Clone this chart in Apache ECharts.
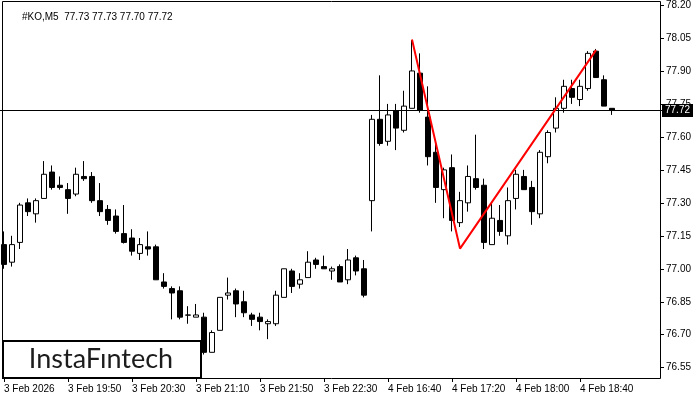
<!DOCTYPE html>
<html>
<head>
<meta charset="utf-8">
<script src="https://cdn.jsdelivr.net/npm/echarts@6.0.0/dist/echarts.min.js"></script>
<style>
  html, body { margin: 0; padding: 0; background: #fff; }
  #chart { width: 700px; height: 400px; }
</style>
</head>
<body>
<div id="chart"></div>
<script>
// KO, M5 - bar 0 is 3 Feb 19:10
const tickLabels = ['3 Feb 2026', '3 Feb 19:50', '3 Feb 20:30', '3 Feb 21:10', '3 Feb 21:50',
    '3 Feb 22:30', '4 Feb 16:40', '4 Feb 17:20', '4 Feb 18:00', '4 Feb 18:40'];
const slotCount = 83; // chart has room for 83 bars, last ones empty

const opens = [77.11, 77.03, 77.12, 77.30, 77.25, 77.32, 77.44, 77.38, 77.36, 77.34,
    77.42, 77.42, 77.31, 77.27, 77.24, 77.16, 77.14, 77.07, 77.10, 77.10,
    76.94, 76.91, 76.90, 76.789, 76.78, 76.78, 76.62, 76.72, 76.88, 76.90,
    76.85, 76.79, 76.78, 76.75, 76.75, 76.87, 76.99, 76.93, 76.96, 77.04,
    77.01, 76.99, 77.01, 76.95, 77.05, 77.00, 77.31, 77.68, 77.58, 77.72,
    77.63, 77.73, 77.89, 77.69, 77.53, 77.36, 77.46, 77.21, 77.30, 77.41,
    77.38, 77.11, 77.22, 77.15, 77.32, 77.42, 77.37, 77.25, 77.51, 77.64,
    77.73, 77.82, 77.77, 77.82, 77.99, 77.86, 77.73];
const highs = [77.17, 77.15, 77.30, 77.32, 77.32, 77.49, 77.47, 77.42, 77.39, 77.46,
    77.49, 77.44, 77.39, 77.29, 77.27, 77.29, 77.18, 77.14, 77.17, 77.11,
    76.98, 76.92, 76.92, 76.83, 76.84, 76.80, 76.72, 76.87, 76.96, 76.91,
    76.90, 76.80, 76.80, 76.77, 76.90, 77.00, 77.00, 76.98, 77.08, 77.05,
    77.06, 77.01, 77.02, 77.09, 77.06, 77.04, 77.70, 77.88, 77.75, 77.75,
    77.81, 78.04, 77.98, 77.83, 77.59, 77.46, 77.52, 77.35, 77.47, 77.61,
    77.41, 77.30, 77.29, 77.37, 77.45, 77.45, 77.40, 77.54, 77.63, 77.78,
    77.86, 77.86, 77.86, 77.99, 78.00, 77.88, 77.73];
const lows = [77.00, 77.01, 77.09, 77.24, 77.21, 77.32, 77.36, 77.36, 77.25, 77.33,
    77.40, 77.30, 77.24, 77.20, 77.16, 77.115, 77.06, 77.04, 77.06, 76.95,
    76.91, 76.77, 76.77, 76.75, 76.78, 76.61, 76.62, 76.72, 76.86, 76.78,
    76.78, 76.74, 76.72, 76.68, 76.74, 76.87, 76.89, 76.91, 76.96, 77.00,
    77.00, 76.95, 76.94, 76.93, 76.97, 76.87, 77.17, 77.56, 77.56, 77.54,
    77.62, 77.73, 77.71, 77.47, 77.30, 77.23, 77.17, 77.19, 77.26, 77.36,
    77.09, 77.11, 77.15, 77.11, 77.27, 77.36, 77.20, 77.23, 77.48, 77.62,
    77.71, 77.75, 77.74, 77.81, 77.87, 77.74, 77.70];
const closes = [77.02, 77.11, 77.29, 77.26, 77.31, 77.43, 77.37, 77.37, 77.32, 77.43,
    77.41, 77.31, 77.26, 77.22, 77.17, 77.12, 77.08, 77.11, 77.09, 76.95,
    76.92, 76.89, 76.78, 76.79, 76.79, 76.62, 76.71, 76.87, 76.89, 76.84,
    76.80, 76.77, 76.76, 76.76, 76.88, 77.00, 76.92, 76.95, 77.03, 77.02,
    77.00, 77.00, 76.94, 77.04, 76.99, 76.88, 77.68, 77.57, 77.70, 77.64,
    77.74, 77.90, 77.72, 77.51, 77.37, 77.45, 77.22, 77.31, 77.42, 77.37,
    77.12, 77.23, 77.17, 77.31, 77.43, 77.36, 77.26, 77.53, 77.62, 77.73,
    77.83, 77.78, 77.83, 77.98, 77.87, 77.74, 77.72];

const priceTicks = [76.55, 76.70, 76.85, 77.00, 77.15, 77.30, 77.45, 77.60, 77.75, 77.90, 78.05, 78.20];
const lastPrice = 77.72;

// double top outline
const patternIdx = [51, 57, 74];
const patternPrice = [78.043, 77.092, 77.995];

const categories = [];
for (let i = 0; i < slotCount; i++) {
    const lbl = i % 8 === 0 ? tickLabels[i / 8] : undefined;
    categories.push(lbl || '');
}
const candles = opens.map((o, i) => [o, closes[i], lows[i], highs[i]]);
const patternLine = patternIdx.map((x, i) => [x, patternPrice[i]]);
const hasLabel = (i) => categories[i] !== '';

const myChart = echarts.init(document.getElementById('chart'));
myChart.setOption({
    animation: false,
    backgroundColor: '#fff',
    title: {
        text: '#KO,M5  77.73 77.73 77.70 77.72',
        left: 17,
        top: 7,
        textStyle: { fontFamily: 'Liberation Sans', fontSize: 10, fontWeight: 'normal', color: '#000' },
    },
    grid: { left: 0, top: 2, width: 664, height: 376 },
    xAxis: {
        type: 'category',
        data: categories,
        boundaryGap: true,
        axisLine: { show: false },
        axisTick: { show: true, interval: hasLabel, alignWithLabel: true, length: 4, lineStyle: { color: '#000' } },
        axisLabel: {
            interval: hasLabel,
            align: 'left',
            margin: 6,
            fontFamily: 'Liberation Sans',
            fontSize: 10,
            color: '#000',
        },
        splitLine: { show: false },
    },
    yAxis: {
        type: 'value',
        position: 'right',
        offset: -4,
        min: 76.5032,
        max: 78.2123,
        scale: true,
        axisLine: { show: false },
        axisTick: { show: true, length: 4, customValues: priceTicks, lineStyle: { color: '#000' } },
        axisLabel: {
            customValues: priceTicks,
            margin: 6,
            fontFamily: 'Liberation Sans',
            fontSize: 10,
            color: '#000',
            formatter: (v) => v.toFixed(2),
        },
        splitLine: { show: false },
    },
    series: [
        {
            type: 'candlestick',
            data: candles,
            barWidth: 5,
            itemStyle: {
                color: '#fff',
                color0: '#000',
                borderColor: '#000',
                borderColor0: '#000',
                borderWidth: 1,
            },
            markLine: {
                silent: true,
                symbol: ['none', 'none'],
                lineStyle: { color: '#000', width: 1, type: 'solid' },
                label: {
                    show: true,
                    position: 'end',
                    distance: -2,
                    formatter: lastPrice.toFixed(2),
                    backgroundColor: '#000',
                    color: '#fff',
                    fontFamily: 'Liberation Sans',
                    fontSize: 10,
                    padding: [2, 3, 1, 3],
                },
                data: [{ yAxis: lastPrice }],
            },
        },
        {
            type: 'line',
            data: patternLine,
            symbol: 'none',
            lineStyle: { color: '#ff0000', width: 2 },
            z: 5,
        },
    ],
    graphic: [
        {
            type: 'rect',
            shape: { x: 2.5, y: 1.5, width: 658, height: 377 },
            style: { fill: null, stroke: '#000', lineWidth: 1 },
            z: 10,
            silent: true,
        },
        {
            type: 'group',
            z: 20,
            children: [
                {
                    type: 'rect',
                    shape: { x: 3, y: 341, width: 198, height: 37 },
                    style: { fill: '#fff', stroke: '#000', lineWidth: 2 },
                },
                {
                    type: 'text',
                    style: {
                        x: 101, y: 359,
                        text: 'InstaF\u0131ntech',
                        font: '400 27px Lato',
                        fill: '#1c1c1c',
                        align: 'center',
                        verticalAlign: 'middle',
                    },
                },
            ],
        },
    ],
});
</script>
</body>
</html>
